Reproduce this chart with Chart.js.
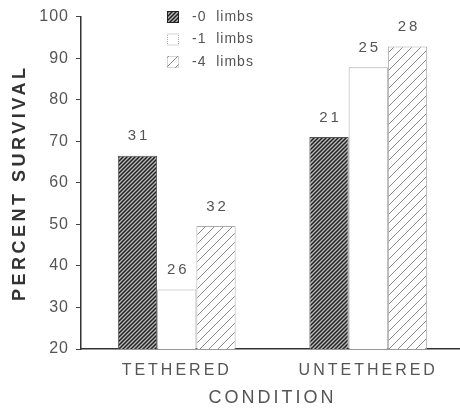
<!DOCTYPE html>
<html><head><meta charset="utf-8">
<script src="https://cdn.jsdelivr.net/npm/chart.js@4.4.1/dist/chart.umd.min.js"></script>
<style>html,body{margin:0;padding:0;background:#fff}#wrap{width:460px;height:414px}</style>
</head><body><div id="wrap"><canvas id="c" width="460" height="414"></canvas></div>
<script>
const categories = ['TETHERED', 'UNTETHERED'];
const seriesLabels = ['-0  limbs', '-1  limbs', '-4  limbs'];
const limbs0 = [66.5, 71];
const limbs1 = [34.3, 87.8];
const limbs4 = [49.6, 92.8];
const n0 = [31, 21];
const n1 = [26, 25];
const n4 = [32, 28];
const yTicks = [20, 30, 40, 50, 60, 70, 80, 90, 100];

function hatch(size, bg, fg, lw) {
  const c = document.createElement('canvas');
  c.width = size; c.height = size;
  const g = c.getContext('2d');
  g.fillStyle = bg; g.fillRect(0, 0, size, size);
  g.strokeStyle = fg; g.lineWidth = lw;
  g.beginPath();
  g.moveTo(-1, size + 1); g.lineTo(size + 1, -1);
  g.moveTo(-1, 1); g.lineTo(1, -1);
  g.moveTo(size - 1, size + 1); g.lineTo(size + 1, size - 1);
  g.stroke();
  return g.createPattern(c, 'repeat');
}
const darkPat = hatch(4, '#b8b8b8', '#222', 1.5);
const lightPat = hatch(9, '#ffffff', '#8a8a8a', 1);

const spacing = { x: { labels: '3px', title: '3px' }, y: { labels: '1px', title: '3.5px' } };
const origLabels = Chart.Scale.prototype.drawLabels;
Chart.Scale.prototype.drawLabels = function (ca) {
  const c = this.ctx; c.save();
  c.letterSpacing = (spacing[this.id] || {}).labels || '0px';
  origLabels.call(this, ca); c.restore();
};
const origTitle = Chart.Scale.prototype.drawTitle;
Chart.Scale.prototype.drawTitle = function (ca) {
  const c = this.ctx; c.save();
  c.letterSpacing = (spacing[this.id] || {}).title || '0px';
  origTitle.call(this, ca); c.restore();
};

// extend the category axis a few pixels past the canvas edge, as in the original
const widenX = {
  id: 'widenX',
  afterLayout(chart) {
    const s = chart.scales.x;
    s.right += 4; s.width += 4;
    s.configure();
  }
};

const counts = [n0, n1, n4];
const countLabels = {
  id: 'countLabels',
  afterDatasetsDraw(chart) {
    const ctx = chart.ctx;
    ctx.save();
    ctx.font = '15px "Liberation Sans", Arial, sans-serif';
    ctx.letterSpacing = '3px';
    ctx.fillStyle = '#555';
    ctx.textAlign = 'center';
    ctx.textBaseline = 'bottom';
    chart.data.datasets.forEach((ds, i) => {
      chart.getDatasetMeta(i).data.forEach((bar, j) => {
        ctx.fillText(String(counts[i][j]), bar.x + 1.5, bar.y - 12);
      });
    });
    ctx.restore();
  }
};

const boxLegend = {
  id: 'boxLegend',
  afterDraw(chart) {
    const ctx = chart.ctx;
    ctx.save();
    ctx.font = '14px "Liberation Sans", Arial, sans-serif';
    ctx.letterSpacing = '1px';
    ctx.textBaseline = 'middle';
    chart.data.datasets.forEach((ds, i) => {
      const cy = 17 + i * 22.5;
      ctx.fillStyle = ds.backgroundColor;
      ctx.fillRect(167, cy - 6, 12, 12);
      ctx.strokeStyle = i === 0 ? '#222' : '#aaa';
      ctx.lineWidth = 1;
      ctx.setLineDash(i === 0 ? [] : [1, 1]);
      ctx.strokeRect(167.5, cy - 5.5, 11, 11);
      ctx.setLineDash([]);
      ctx.fillStyle = '#555';
      ctx.fillText(ds.label, 192, cy);
    });
    ctx.restore();
  }
};

new Chart(document.getElementById('c'), {
  type: 'bar',
  data: {
    labels: categories,
    datasets: [
      { label: seriesLabels[0], data: limbs0, backgroundColor: darkPat, borderColor: '#555', borderWidth: 1 },
      { label: seriesLabels[1], data: limbs1, backgroundColor: '#ffffff', borderColor: '#aaa', borderWidth: 1 },
      { label: seriesLabels[2], data: limbs4, backgroundColor: lightPat, borderColor: '#aaa', borderWidth: 1 }
    ]
  },
  options: {
    responsive: false,
    animation: false,
    devicePixelRatio: 1,
    layout: { padding: { top: 14, right: 0, bottom: 0, left: 0 } },
    datasets: { bar: { categoryPercentage: 0.615, barPercentage: 1, borderSkipped: 'bottom' } },
    plugins: { legend: { display: false }, tooltip: { enabled: false } },
    scales: {
      x: {
        afterFit(s) { s.height = 65; },
        grid: { display: true, drawOnChartArea: false, drawTicks: false },
        border: { display: true, color: '#333', width: 1.5 },
        ticks: { padding: 12, color: '#555', font: { family: '"Liberation Sans", Arial, sans-serif', size: 16 } },
        title: { display: true, text: 'CONDITION', color: '#555', padding: { top: 0, bottom: 5 },
          font: { family: '"Liberation Sans", Arial, sans-serif', size: 18 } }
      },
      y: {
        min: 20, max: 100,
        afterFit(s) { s.width = 81; },
        afterBuildTicks(s) { s.ticks = yTicks.map(v => ({ value: v })); },
        grid: { display: true, drawOnChartArea: false, drawTicks: true, tickLength: 5, color: '#444' },
        border: { display: true, color: '#333', width: 1.5 },
        ticks: { padding: 7, color: '#555', font: { family: '"Liberation Sans", Arial, sans-serif', size: 16 } },
        title: { display: true, text: 'PERCENT SURVIVAL', color: '#333', padding: { top: 9, bottom: 0 },
          font: { family: '"Liberation Sans", Arial, sans-serif', size: 18, weight: 'bold' } }
      }
    }
  },
  plugins: [widenX, countLabels, boxLegend]
});
</script></body></html>
